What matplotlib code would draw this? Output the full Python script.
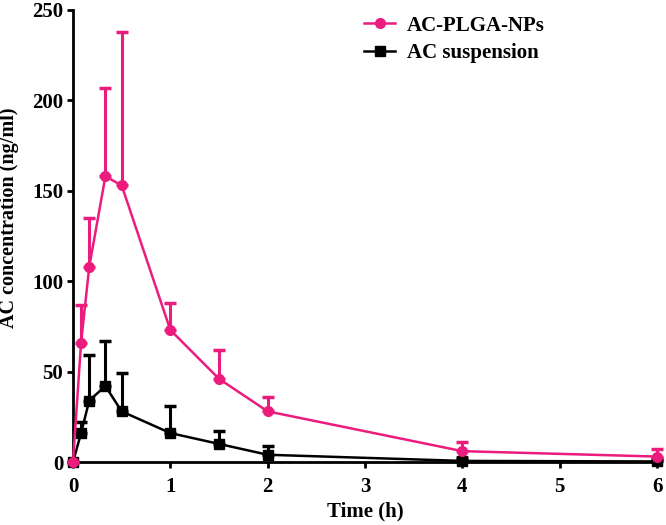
import numpy as np
import matplotlib.pyplot as plt
from matplotlib.lines import Line2D

plt.rcParams['font.family'] = ['Liberation Serif', 'DejaVu Serif']
plt.rcParams['font.weight'] = 'bold'

time = [0, 0.083, 0.167, 0.333, 0.5, 1, 1.5, 2, 4, 6]
nps_mean = [0, 66, 108, 158, 153, 73, 46, 28, 6, 3]
nps_err = [0, 21, 27, 49, 85, 15, 16, 8, 5, 4]
susp_mean = [0, 16, 34, 42, 28, 16, 10, 4, 0.6, 0.3]
susp_err = [0, 6, 25, 25, 21, 15, 7, 5, 1.5, 1.2]

pink = '#EC1C7E'

fig = plt.figure(figsize=(6.66, 5.25), dpi=100)
ax = fig.add_axes([0.1096, 0.12, 0.877, 0.861])

ax.errorbar(time, susp_mean, yerr=[np.zeros(len(susp_err)), susp_err], color='black',
            marker='s', markersize=7, lw=1.8, elinewidth=2.2, capsize=4, capthick=2.5,
            clip_on=False, zorder=3)
ax.errorbar(time, nps_mean, yerr=[np.zeros(len(nps_err)), nps_err], color=pink,
            marker='o', markersize=7, lw=1.8, elinewidth=2.2, capsize=4, capthick=2.5,
            clip_on=False, zorder=4)

ax.set_xlim(0, 6)
ax.set_ylim(0, 250)
ax.set_xticks(range(0, 7))
ax.set_yticks(range(0, 251, 50))
for s in ['top', 'right']:
    ax.spines[s].set_visible(False)
for s in ['left', 'bottom']:
    ax.spines[s].set_linewidth(2)
ax.tick_params(width=2, length=4, labelsize=15, pad=3)
ax.tick_params(axis='x', pad=7)
ax.set_xlabel('Time (h)', fontsize=15, fontweight='bold', labelpad=3)
ax.set_ylabel('AC concentration (ng/ml)', fontsize=14.5, fontweight='bold')
ax.yaxis.set_label_coords(-0.092, 0.54)

handles = [Line2D([], [], color=pink, marker='o', markersize=7, lw=1.8),
           Line2D([], [], color='black', marker='s', markersize=7, lw=1.8)]
ax.legend(handles, ['AC-PLGA-NPs', 'AC suspension'], loc='upper left',
          bbox_to_anchor=(0.477, 1.015), frameon=False, fontsize=15,
          handlelength=1.5, handletextpad=0.55, labelspacing=0.35, borderaxespad=0.2)

fig.savefig('out.png', dpi=100)
